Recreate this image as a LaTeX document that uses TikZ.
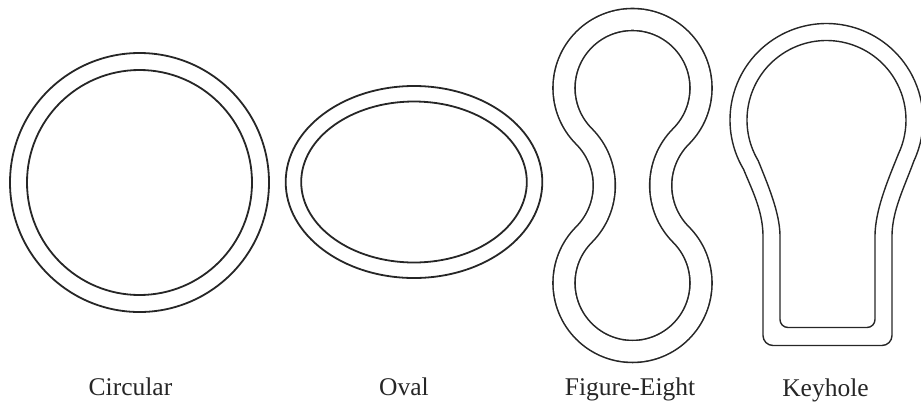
\documentclass[tikz,border=0pt]{standalone}
\usepackage{fontspec}
\setmainfont{Liberation Serif}
\begin{document}
\begin{tikzpicture}[x=1pt,y=-1pt,
  ring/.style={line width=1.8pt, black!85},
  fig8/.style={line width=1.6pt, black!85, double=white, double distance=20.4pt},
  keyline/.style={line width=1.4pt, black!85},
  lbl/.style={anchor=base, font=\fontsize{25.5}{30}\selectfont, text=black!85, inner sep=0pt}]
\useasboundingbox (0,0) rectangle (921,408);
% Circular
\coordinate (cc) at (139.5,182.5);
\draw[ring] (cc) circle[radius=129.5];
\draw[ring] (cc) circle[radius=112.5];
% Oval
\coordinate (oc) at (414,182);
\draw[ring] (oc) ellipse[x radius=128.3, y radius=96];
\draw[ring] (oc) ellipse[x radius=112.8, y radius=80.5];
% Figure-eight
\coordinate (fu) at (632.5,88);
\draw[fig8] ([shift={(44.9:68.5)}]fu)
  arc[start angle=44.9, end angle=-224.9, radius=68.5]
  arc[start angle=-44.9, end angle=44.9, radius=69.6]
  arc[start angle=224.9, end angle=-44.9, radius=68.5]
  arc[start angle=135.1, end angle=224.9, radius=69.6] -- cycle;
% Keyhole
\coordinate (kc) at (826.5,120);
% outer contour
\draw[keyline] (763,290) -- (763,235)
  .. controls (762.5,210) and (752,190) .. ([shift={(149.2:96.5)}]kc)
  arc[start angle=149.2, end angle=385, radius=96.5]
  .. controls (904,188) and (892.5,210) .. (892,235)
  -- (892,335.5) arc[start angle=0, end angle=90, radius=10]
  -- (773,345.5) arc[start angle=90, end angle=180, radius=10]
  -- cycle;
% inner contour
\draw[keyline] (780,290) -- (780,235)
  .. controls (779.5,212) and (768,185) .. ([shift={(149.2:79.5)}]kc)
  arc[start angle=149.2, end angle=385, radius=79.5]
  .. controls (887,182) and (875.5,210) .. (875,235)
  -- (875,319.5) arc[start angle=0, end angle=90, radius=8]
  -- (788,327.5) arc[start angle=90, end angle=180, radius=8]
  -- cycle;
% Labels
\node[lbl] (lcirc) at (130.5,395.5) {Circular};
\node[lbl] (loval) at (404,395.5) {Oval};
\node[lbl] (lfig) at (630,395.5) {Figure-Eight};
\node[lbl] (lkey) at (825.5,396) {Keyhole};
\end{tikzpicture}
\end{document}
